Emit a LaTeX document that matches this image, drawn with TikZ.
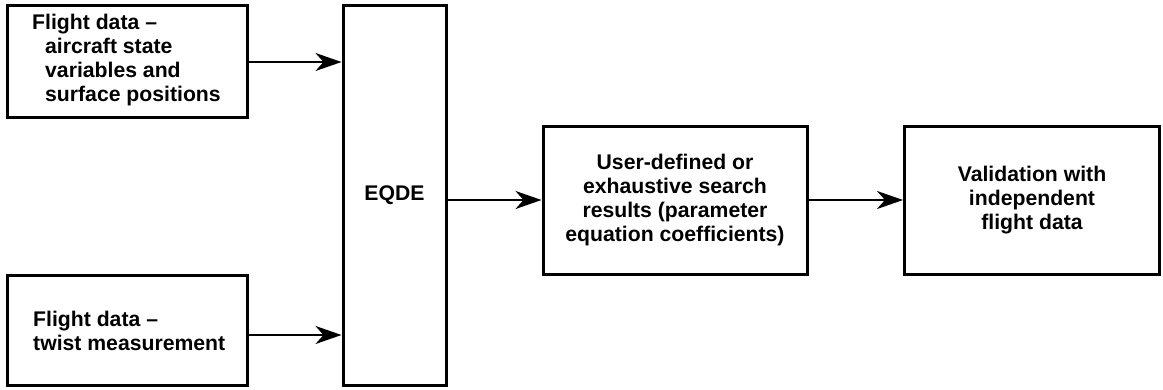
\documentclass[tikz,border=0pt]{standalone}
\usepackage{fontspec}
\setmainfont{Liberation Sans}
\usetikzlibrary{arrows.meta,calc}
\begin{document}
\begin{tikzpicture}[x=1bp,y=-1bp,
  box/.style={draw=black,line width=3bp,minimum width=#1,inner sep=0pt},
  txt/.style={font=\fontsize{21.2bp}{24bp}\selectfont\bfseries},
  conn/.style={line width=2.3bp,-{Stealth[length=26bp,width=18bp,inset=8bp]}}]
\useasboundingbox (0,0) rectangle (1163,389);
\node[box=239bp,minimum height=112bp] (b1) at (127.5,61) {};
\node[txt,anchor=west,align=left,inner sep=0pt] (t1) at (32,60) {Flight data --\\\hspace*{13bp}aircraft state\\\hspace*{13bp}variables and\\\hspace*{13bp}surface positions};
\node[box=239bp,minimum height=110bp] (b2) at (127.5,330) {};
\node[txt,anchor=west,align=left,inner sep=0pt] (t2) at (33,331) {Flight data --\\twist measurement};
\node[box=103bp,minimum height=380bp,txt] (eq) at (394.5,195) {EQDE};
\node[box=264bp,minimum height=148bp,txt,align=center] (b3) at (675,200) {User-defined or\\exhaustive search\\results (parameter\\equation coefficients)};
\node[box=255bp,minimum height=148bp,txt,align=center] (b4) at (1032,200) {Validation with\\independent\\flight data};
\coordinate (a1) at ($(b1.east)+(0,1)$);
\coordinate (a2) at ($(b2.east)+(0,5)$);
\draw[conn] (a1) -- (a1 -| eq.west);
\draw[conn] (a2) -- (a2 -| eq.west);
\draw[conn] (eq.east |- b3.west) -- (b3.west);
\draw[conn] (b3.east) -- (b4.west);
\end{tikzpicture}
\end{document}
